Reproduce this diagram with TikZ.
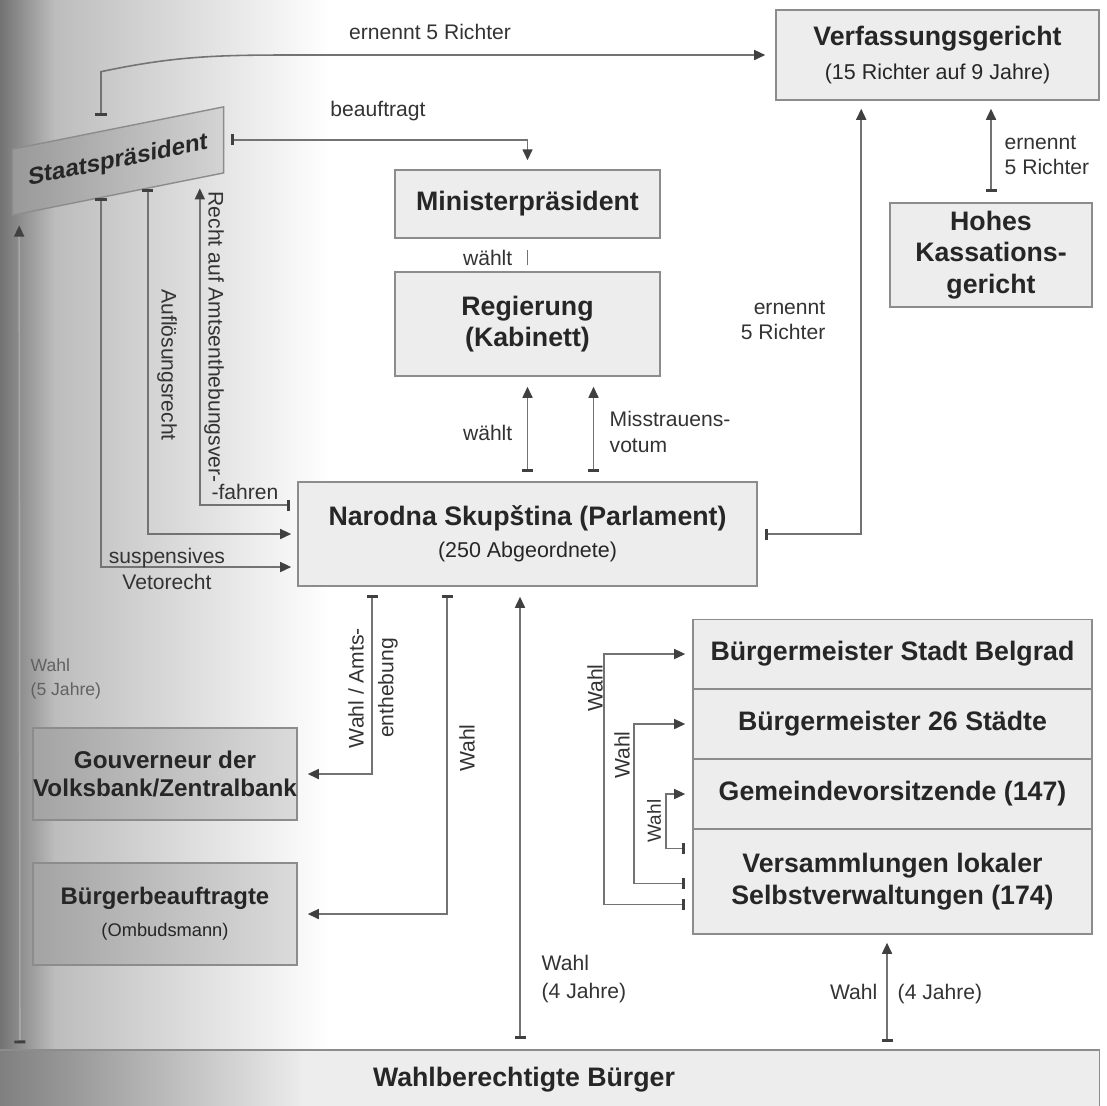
\documentclass[tikz,border=0pt]{standalone}
\usepackage{fontspec}
\setmainfont{Liberation Sans}
\usetikzlibrary{arrows.meta, calc}
\newcommand{\lblfont}{\fontsize{6}{7.2}\selectfont}
\newcommand{\subfont}{\mdseries\fontsize{6.1}{7.2}\selectfont}
\tikzset{
  box/.style = {draw=black!45, fill=black!7, text=black!85, align=center,
    inner sep=0pt, font=\bfseries\fontsize{7.6}{9}\selectfont},
  darkbox/.style = {box, left color=black!36, right color=black!14},
  lab/.style = {text=black!80, inner sep=0pt, font=\lblfont},
  conn/.style = {draw=black!55, line width=0.45pt},
  arr/.style = {conn, {Bar[width=1.1mm, line width=0.8pt, color=black!75]}-{Triangle[length=1.1mm, width=1mm, color=black!75]}}
}

\begin{document}
\begin{tikzpicture}[x=0.01cm, y=-0.01cm]
  \useasboundingbox (0,0) rectangle (1107,1105);

  % Buchfalz
  \shade[left color=black!55, right color=black!26] (0,0) rectangle (55,1105);
  \shade[left color=black!26, right color=white] (55,0) rectangle (330,1105);
  \shade[left color=black!50, right color=black!8] (0,1050) rectangle (300,1110);
  \fill[black!7] (300,1050) rectangle (1099,1110);

  % boxes
  \node[box, minimum width=3.23cm, minimum height=0.9cm] (vg) at (937.5,55)
    {Verfassungsgericht\\[0.8pt]\subfont(15 Richter auf 9 Jahre)};
  \node[box, minimum width=2.65cm, minimum height=0.68cm] (mp) at (527.5,204) {Ministerpräsident};
  \node[box, minimum width=2.65cm, minimum height=1.04cm] (reg) at (527.5,324) {Regierung\\(Kabinett)};
  \node[box, minimum width=4.59cm, minimum height=1.04cm] (par) at (527.5,534)
    {Narodna Skupština (Parlament)\\\subfont(250 Abgeordnete)};
  \node[box, minimum width=2.02cm, minimum height=1.04cm] (hk) at (991,255) {Hohes\\Kassations-\\gericht};
  \node[darkbox, minimum width=2.64cm, minimum height=0.92cm, font=\bfseries\fontsize{6.9}{8}\selectfont]
    (gov) at (165,774) {Gouverneur der\\Volksbank/Zentralbank};
  \node[darkbox, minimum width=2.64cm, minimum height=1.02cm, font=\bfseries\fontsize{6.8}{8}\selectfont]
    (bb) at (165,914) {Bürgerbeauftragte\\[1.1pt]\mdseries\fontsize{5.2}{6}\selectfont(Ombudsmann)};
  \node[box, minimum width=3.99cm, minimum height=0.69cm] (mb) at (892.5,654) {Bürgermeister Stadt Belgrad};
  \node[box, minimum width=3.99cm, minimum height=0.70cm] (m26) at (892.5,724) {Bürgermeister 26 Städte};
  \node[box, minimum width=3.99cm, minimum height=0.69cm] (gv) at (892.5,794) {Gemeindevorsitzende (147)};
  \node[box, minimum width=3.99cm, minimum height=1.05cm] (vs) at (892.5,881.5)
    {Versammlungen lokaler\\Selbstverwaltungen (174)};
  \node[box, fill=none, minimum width=11.5cm, minimum height=0.6cm] (wb) at (524,1080) {Wahlberechtigte Bürger};
  \begin{scope}[shift={(118,161)}, yslant=0.2]
    \node[darkbox, left color=black!40, right color=black!17, transform shape,
      minimum width=2.11cm, minimum height=0.66cm,
      font=\bfseries\fontsize{6.8}{8}\selectfont] (sp) at (0,0) {Staatspräsident};
  \end{scope}

  \coordinate (spt) at ($(sp.north west)!0.42!(sp.north east)+(0,-15)$);
  \coordinate (spb0) at ($(sp.south west)!0.035!(sp.south east)$);
  \coordinate (spb1) at ($(sp.south west)!0.42!(sp.south east)$);
  \coordinate (spb2) at ($(sp.south west)!0.64!(sp.south east)$);
  \coordinate (spb3) at ($(sp.south west)!0.885!(sp.south east)$);
  \coordinate (gutterx) at (20,0);
  \coordinate (vx) at (520,0);
  \coordinate (vy) at (887,0);

  % Staatspraesident
  \draw[arr, shorten >=1mm] (spt) -- ++(0,-44) to[out=12,in=180] (290,55) -- (vg.west);
  \draw[arr, shorten <=0.7mm, shorten >=0.9mm] (sp.east) -| (mp.north);
  \draw[arr, shorten >=0.6mm] (spb1) |- ($(par.west)+(0,33)$);
  \draw[arr, shorten >=0.6mm] (spb2) |- (par.west);
  \draw[arr, shorten <=0.7mm, shorten >=1mm] ($(par.west)+(0,-29)$) -| (spb3);

  % Regierung
  \draw[conn, shorten <=0.6mm, shorten >=1.1mm] (reg.north) -- (mp.south);
  \draw[arr, shorten <=0.9mm, shorten >=1mm] (par.north) -- (reg.south);
  \draw[arr, shorten <=0.9mm, shorten >=1mm] ($(par.north)+(66,0)$) -- ($(reg.south)+(66,0)$);

  % Gerichte
  \draw[arr, shorten <=0.7mm, shorten >=0.8mm] (par.east) -| ($(vg.south west)+(86,0)$);
  \draw[arr, shorten <=1mm, shorten >=0.8mm] (hk.north) -- (hk.north |- vg.south);

  \draw[arr, shorten <=0.8mm, shorten >=1mm] ($(par.south west)+(75,0)$) |- (gov.east);
  \draw[arr, shorten <=0.8mm, shorten >=1mm] ($(par.south west)+(150,0)$) |- (bb.east);

  % Wahl
  \draw[arr, shorten <=1mm, shorten >=1mm] (wb.north -| vx) -- (par.south -| vx);
  \draw[arr, shorten <=0.7mm, shorten >=0.8mm] (wb.north -| vy) -- (vs.south -| vy);
  \draw[arr, draw=black!35, shorten <=0.6mm, shorten >=1.1mm] (wb.north -| gutterx) -- (spb0);
  \draw[arr, shorten <=0.7mm, shorten >=0.7mm] ($(vs.west)+(0,23)$) -- ++(-88,0) |- (mb.west);
  \draw[arr, shorten <=0.7mm, shorten >=0.7mm] ($(vs.west)+(0,2)$) -- ++(-58,0) |- (m26.west);
  \draw[arr, shorten <=0.7mm, shorten >=0.7mm] ($(vs.west)+(0,-33)$) -- ++(-26,0) |- (gv.west);

  % labels
  \node[lab] (lrich1) at (430,32) {ernennt 5 Richter};
  \node[lab] (lbeauf) at (378,111) {beauftragt};
  \node[lab, anchor=east] (lwaehlt1) at (513,258) {wählt};
  \node[lab, anchor=east] (lwaehlt2) at (513,433) {wählt};
  \node[lab, anchor=west, align=left] (lmiss) at (609,432) {Misstrauens-\\votum};
  \node[lab, anchor=east, align=right] (lrich2) at (826,320) {ernennt\\5 Richter};
  \node[lab, anchor=west, align=left] (lrich3) at (1004,155) {ernennt\\5 Richter};
  \node[lab, rotate=-90] (lauf) at (167,365) {Auflösungsrecht};
  \node[lab, rotate=-90] (lrecht) at (214,337) {Recht auf Amtsenthebungsver-};
  \node[lab] (lfahren) at (245,492) {-fahren};
  \node[lab, align=center] (lveto) at (167,569) {suspensives\\Vetorecht};
  \node[lab, rotate=90, align=center] (lamts) at (373,688) {Wahl / Amts-\\[1.3pt]enthebung};
  \node[lab, rotate=90] (lwahl1) at (467,748) {Wahl};
  \node[lab, anchor=west, align=left] (lwahl4) at (541,979) {Wahl\\[0.8pt](4 Jahre)};
  \node[lab, anchor=base east] (lwahl5) at (878,999) {Wahl};
  \node[lab, anchor=base west] (ljahre) at (897,999) {(4 Jahre)};
  \node[lab, rotate=90] (lw1) at (595,688) {Wahl};
  \node[lab, rotate=90] (lw2) at (622,755) {Wahl};
  \node[lab, rotate=90, font=\fontsize{5.4}{6}\selectfont] (lw3) at (654,821) {Wahl};
  \node[lab, anchor=west, align=left, text=black!62, font=\fontsize{5}{7}\selectfont]
    (lwahlsp) at (30,679) {Wahl\\(5 Jahre)};
\end{tikzpicture}
\end{document}
